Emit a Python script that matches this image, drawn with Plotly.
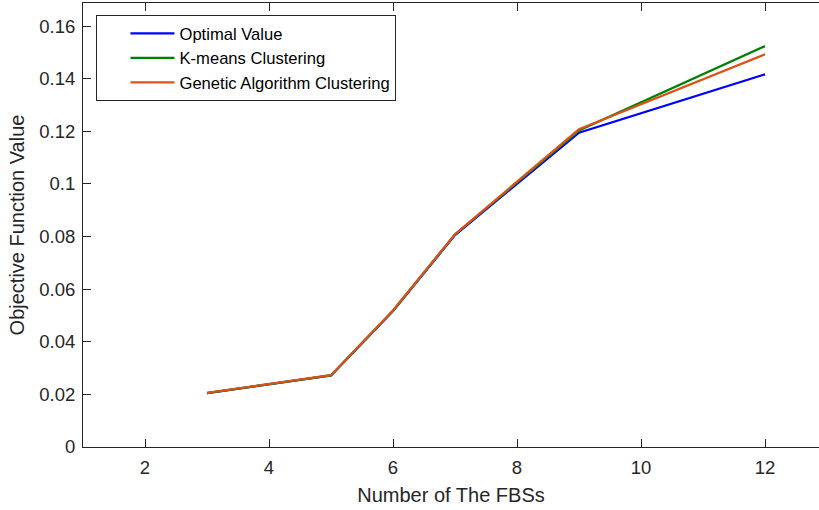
import plotly.graph_objects as go

# Number of FBSs evaluated
fbs_count = [3, 5, 6, 7, 9, 12]

# Objective function value for each method
optimal_value = [0.0205, 0.0272, 0.0517, 0.0806, 0.1195, 0.1417]
kmeans_value = [0.0205, 0.0272, 0.0518, 0.0808, 0.1203, 0.1524]
genetic_value = [0.0206, 0.0273, 0.0519, 0.0809, 0.1208, 0.1493]

series = [
    ("Optimal Value", optimal_value, "#0000FF"),
    ("K-means Clustering", kmeans_value, "#008000"),
    ("Genetic Algorithm Clustering", genetic_value, "#D95319"),
]

font_family = "Liberation Sans, Arial, Helvetica, sans-serif"
axis_color = "#262626"

fig = go.Figure()
for name, values, color in series:
    fig.add_trace(go.Scatter(
        x=fbs_count, y=values, mode="lines", name=name,
        line=dict(color=color, width=2.3),
    ))

fig.update_layout(
    width=819, height=510,
    margin=dict(l=83, r=0, t=3, b=63),
    paper_bgcolor="white", plot_bgcolor="white",
    font=dict(family=font_family, size=18.5, color=axis_color),
    showlegend=True,
    legend=dict(
        x=0.0177, y=0.973, xanchor="left", yanchor="top",
        bgcolor="white", bordercolor=axis_color, borderwidth=1,
        font=dict(family=font_family, size=16.6, color="#000000"),
        itemwidth=44,
        title=dict(text="\u00a0" * 4, side="left", font=dict(size=16.6)),
    ),
)

fig.update_xaxes(
    range=[1, 12.871], tickvals=[2, 4, 6, 8, 10, 12],
    showgrid=False, zeroline=False,
    showline=True, linecolor=axis_color, linewidth=1, mirror="allticks",
    ticks="inside", ticklen=8, tickcolor=axis_color, tickwidth=1,
    ticklabelstandoff=4,
    tickfont=dict(size=18.5, color=axis_color),
    title=dict(text="Number of The FBSs", font=dict(size=20, color=axis_color), standoff=10),
)
fig.update_yaxes(
    range=[0, 0.1688], tickvals=[0, 0.02, 0.04, 0.06, 0.08, 0.1, 0.12, 0.14, 0.16],
    ticktext=["0", "0.02", "0.04", "0.06", "0.08", "0.1", "0.12", "0.14", "0.16"],
    showgrid=False, zeroline=False,
    showline=True, linecolor=axis_color, linewidth=1,
    ticks="inside", ticklen=8, tickcolor=axis_color, tickwidth=1,
    ticklabelstandoff=3,
    tickfont=dict(size=18.5, color=axis_color),
    title=dict(text="Objective Function Value", font=dict(size=20, color=axis_color), standoff=9),
)

fig.write_html("out.html")
